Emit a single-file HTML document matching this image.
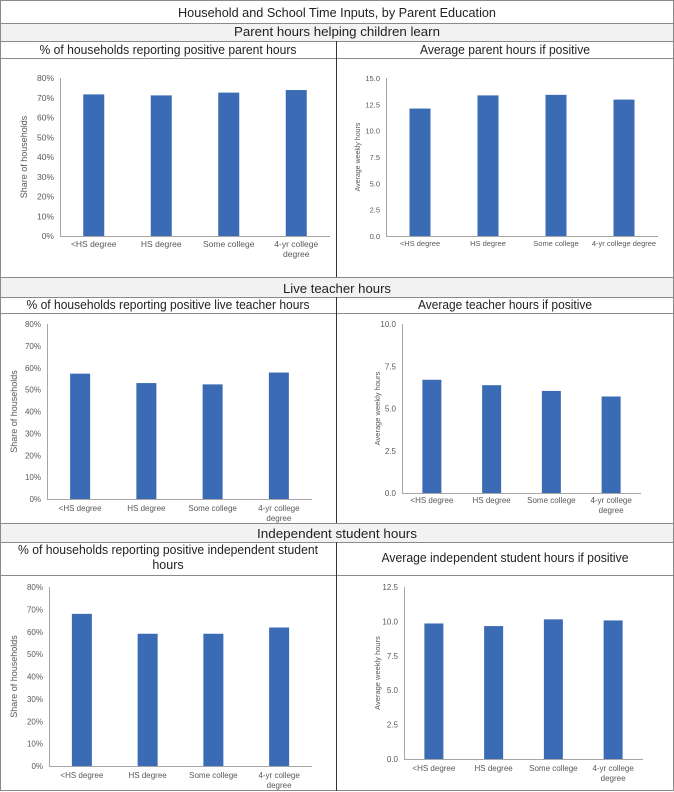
<!DOCTYPE html>
<html><head><meta charset="utf-8"><style>
html,body{margin:0;padding:0;background:#fff}
svg{display:block}
.t{font-family:"Liberation Sans",Arial,sans-serif;fill:#222}
.k{font-family:"Liberation Sans",Arial,sans-serif;fill:#595959}
</style></head><body>
<svg id="s" width="674" height="792" viewBox="0 0 674 792" xmlns="http://www.w3.org/2000/svg">
<g>
<rect x="0" y="23" width="674" height="18" fill="#f2f2f2"/>
<rect x="0" y="277" width="674" height="20" fill="#f2f2f2"/>
<rect x="0" y="523" width="674" height="19" fill="#f2f2f2"/>
<rect x="0.5" y="0.5" width="673" height="790" fill="none" stroke="#8a8a8a"/>
<g stroke="#8a8a8a" stroke-width="1">
<line x1="0" y1="23.5" x2="674" y2="23.5"/><line x1="0" y1="41.5" x2="674" y2="41.5"/><line x1="0" y1="58.5" x2="674" y2="58.5"/>
<line x1="0" y1="277.5" x2="674" y2="277.5"/><line x1="0" y1="297.5" x2="674" y2="297.5"/><line x1="0" y1="313.5" x2="674" y2="313.5"/>
<line x1="0" y1="523.5" x2="674" y2="523.5"/><line x1="0" y1="542.5" x2="674" y2="542.5"/><line x1="0" y1="575.5" x2="674" y2="575.5"/>
</g>
<g stroke="#333" stroke-width="1">
<line x1="336.5" y1="41" x2="336.5" y2="277"/><line x1="336.5" y1="297" x2="336.5" y2="523"/><line x1="336.5" y1="542" x2="336.5" y2="791"/>
</g>
</g>
<text class="t" x="337" y="17" text-anchor="middle" font-size="13" textLength="318" lengthAdjust="spacingAndGlyphs">Household and School Time Inputs, by Parent Education</text>
<text class="t" x="337" y="36" text-anchor="middle" font-size="13" textLength="206" lengthAdjust="spacingAndGlyphs">Parent hours helping children learn</text>
<text class="t" x="168" y="54" text-anchor="middle" font-size="12.5" textLength="257" lengthAdjust="spacingAndGlyphs">% of households reporting positive parent hours</text>
<text class="t" x="505" y="54" text-anchor="middle" font-size="12.5" textLength="170" lengthAdjust="spacingAndGlyphs">Average parent hours if positive</text>
<text class="t" x="337" y="293" text-anchor="middle" font-size="13" textLength="108" lengthAdjust="spacingAndGlyphs">Live teacher hours</text>
<text class="t" x="168" y="309" text-anchor="middle" font-size="12.5" textLength="283" lengthAdjust="spacingAndGlyphs">% of households reporting positive live teacher hours</text>
<text class="t" x="505" y="309" text-anchor="middle" font-size="12.5" textLength="174" lengthAdjust="spacingAndGlyphs">Average teacher hours if positive</text>
<text class="t" x="337" y="538" text-anchor="middle" font-size="13" textLength="160" lengthAdjust="spacingAndGlyphs">Independent student hours</text>
<text class="t" x="168" y="554" text-anchor="middle" font-size="12.5" textLength="300" lengthAdjust="spacingAndGlyphs">% of households reporting positive independent student</text>
<text class="t" x="168" y="569" text-anchor="middle" font-size="12.5">hours</text>
<text class="t" x="505" y="562" text-anchor="middle" font-size="12.5" textLength="247" lengthAdjust="spacingAndGlyphs">Average independent student hours if positive</text>
</svg>
<script>
const categories = ["<HS degree","HS degree","Some college","4-yr college degree"];
const parentShare = [71.7, 71.2, 72.6, 73.9];
const parentHours = [12.1, 13.35, 13.4, 12.95];
const teacherShare = [57.3, 53.0, 52.4, 57.8];
const teacherHours = [6.7, 6.38, 6.04, 5.71];
const indepShare = [68.0, 59.1, 59.1, 61.9];
const indepHours = [9.85, 9.66, 10.15, 10.07];
const pctTicks = [0,10,20,30,40,50,60,70,80];
const parentHourTicks = [0,2.5,5,7.5,10,12.5,15];
const teacherHourTicks = [0,2.5,5,7.5,10];
const indepHourTicks = [0,2.5,5,7.5,10,12.5];

const NS = "http://www.w3.org/2000/svg";
const svg = document.getElementById('s');
function mk(tag, attrs, parent){const e=document.createElementNS(NS,tag);for(const k in attrs)e.setAttribute(k,attrs[k]);parent.appendChild(e);return e;}

function drawChart(name, values, ticks, fmt, c){
  const g = mk('g',{},svg);
  
  
  const max = ticks[ticks.length-1];
  const y = v => c.y0 - (v/max)*(c.y0-c.y1);
  const step = (c.x1 - c.x0)/categories.length;
  const cx = i => c.x0 + step*(i+0.5);
  ticks.forEach(t=>{
    const tx = mk('text',{x:c.x0-6,y:y(t)+3,'text-anchor':'end','font-size':c.tf,class:'k'},g);
    tx.textContent = fmt(t);
    
    
  });
  values.forEach((v,i)=>{
    const r = mk('rect',{x:cx(i)-c.bw/2,y:y(v),width:c.bw,height:c.y0-y(v),fill:'#3a6bb4'},g);
    
    
  });
  mk('line',{x1:c.x0+0.5,y1:c.y1,x2:c.x0+0.5,y2:c.y0,stroke:'#a6a6a6'},g);
  mk('line',{x1:c.x0,y1:c.y0+0.5,x2:c.x1,y2:c.y0+0.5,stroke:'#a6a6a6'},g);
  categories.forEach((lab,i)=>{
    const lines = (c.wrap && lab==="4-yr college degree") ? ["4-yr college","degree"] : [lab];
    lines.forEach((ln,j)=>{
      const tx = mk('text',{x:cx(i),y:c.y0+c.ly+j*10,'text-anchor':'middle','font-size':c.tf,class:'k'},g);
      tx.textContent = ln;
      
      
    });
  });
  const yt = mk('text',{x:0,y:0,'text-anchor':'middle','font-size':c.yf,class:'k',transform:`translate(${c.yx},${(c.y0+c.y1)/2}) rotate(-90)`},g);
  yt.textContent = c.ytitle;
  
  
}
const pf = t => t+'%';
const hf = t => t.toFixed(1);
drawChart('chart-parent-share', parentShare, pctTicks, pf, {x0:60,x1:330,y0:236,y1:78,bw:21,tf:8.5,yf:9,yx:27,ly:11,wrap:true,ytitle:'Share of households'});
drawChart('chart-parent-hours', parentHours, parentHourTicks, hf, {x0:386,x1:658,y0:236,y1:78,bw:21,tf:7.5,yf:7,yx:360,ly:10,wrap:false,ytitle:'Average weekly hours'});
drawChart('chart-teacher-share', teacherShare, pctTicks, pf, {x0:47,x1:312,y0:499,y1:324,bw:20,tf:8,yf:9,yx:17,ly:12,wrap:true,ytitle:'Share of households'});
drawChart('chart-teacher-hours', teacherHours, teacherHourTicks, hf, {x0:402,x1:641,y0:493,y1:324,bw:19,tf:8,yf:7.5,yx:380,ly:10,wrap:true,ytitle:'Average weekly hours'});
drawChart('chart-independent-share', indepShare, pctTicks, pf, {x0:49,x1:312,y0:766,y1:587,bw:20,tf:8,yf:9,yx:17,ly:12,wrap:true,ytitle:'Share of households'});
drawChart('chart-independent-hours', indepHours, indepHourTicks, hf, {x0:404,x1:643,y0:759,y1:587,bw:19,tf:8,yf:7.5,yx:380,ly:12,wrap:true,ytitle:'Average weekly hours'});
</script>
</body></html>
